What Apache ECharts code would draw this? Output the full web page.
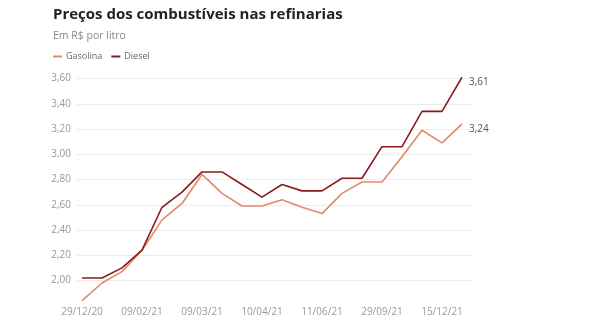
<!DOCTYPE html>
<html>
<head>
<meta charset="utf-8">
<script src="https://cdn.jsdelivr.net/npm/echarts@6/dist/echarts.min.js"></script>
<style>
  html, body { margin: 0; padding: 0; background: #fff; }
  #chart { width: 590px; height: 330px; }
</style>
</head>
<body>
<div id="chart"></div>
<script>
// Datas de referência (um rótulo a cada três levantamentos)
const tickLabels = ['29/12/20', '09/02/21', '09/03/21', '10/04/21', '11/06/21', '29/09/21', '15/12/21'];
const tickPositions = [0, 3, 6, 9, 12, 15, 18];

// Preço médio por litro nas refinarias (R$)
const gasolina = [1.84, 1.98, 2.07, 2.24, 2.48, 2.61, 2.84, 2.69, 2.59, 2.59,
                  2.64, 2.58, 2.53, 2.69, 2.78, 2.78, 2.98, 3.19, 3.09, 3.24];
const diesel   = [2.02, 2.02, 2.10, 2.24, 2.58, 2.70, 2.86, 2.86, 2.76, 2.66,
                  2.76, 2.71, 2.71, 2.81, 2.81, 3.06, 3.06, 3.34, 3.34, 3.61];

const fmt = v => v.toFixed(2).replace('.', ',');
const pairs = arr => arr.map((v, i) => [i, v]);

const chart = echarts.init(document.getElementById('chart'), null, { renderer: 'canvas' });

const FONT = '"Open Sans", sans-serif';

chart.setOption({
  animation: false,
  backgroundColor: '#fff',
  title: [
    {
      text: 'Preços dos combustíveis nas refinarias',
      left: 53, top: 7, padding: 0,
      textStyle: { fontFamily: FONT, fontWeight: 700, fontSize: 15, color: '#222' }
    },
    {
      text: 'Em R$ por litro',
      left: 53, top: 31, padding: 0,
      textStyle: { fontFamily: FONT, fontWeight: 400, fontSize: 10.5, color: '#888' }
    }
  ],
  legend: {
    left: 53, top: 52, padding: 0,
    icon: 'rect',
    itemWidth: 9, itemHeight: 2,
    itemGap: 9,
    textStyle: { fontFamily: FONT, fontSize: 9, color: '#666', padding: [0, 0, 0, -1] },
    data: ['Gasolina', 'Diesel']
  },
  grid: { left: 77, right: 118, top: 78.5, bottom: 24.25, containLabel: false },
  xAxis: {
    type: 'value',
    min: -0.25, max: 19.5,
    axisLine: { show: false },
    axisTick: { show: false },
    splitLine: { show: false },
    axisLabel: {
      customValues: tickPositions,
      formatter: v => tickLabels[tickPositions.indexOf(v)] || '',
      margin: 1,
      fontFamily: FONT, fontSize: 10, color: '#999'
    }
  },
  yAxis: {
    type: 'value',
    min: 1.8, max: 3.6, interval: 0.2,
    axisLine: { show: false },
    axisTick: { show: false },
    splitLine: {
      show: true,
      lineStyle: { color: '#ececec', width: 1 },
      showMinLine: false
    },
    axisLabel: {
      formatter: v => (Math.abs(v - 1.8) < 1e-6 ? '' : fmt(v)),
      margin: 6,
      fontFamily: FONT, fontSize: 10, color: '#999'
    }
  },
  series: [
    {
      name: 'Gasolina',
      type: 'line',
      data: pairs(gasolina),
      showSymbol: false,
      clip: false,
      color: '#e2896a',
      lineStyle: { width: 1.6, color: '#e2896a' },
      endLabel: {
        show: true,
        formatter: p => fmt(p.value[1]),
        distance: 7,
        offset: [0, 5],
        fontFamily: FONT, fontSize: 10, color: '#555'
      }
    },
    {
      name: 'Diesel',
      type: 'line',
      data: pairs(diesel),
      showSymbol: false,
      clip: false,
      color: '#8b1a1e',
      lineStyle: { width: 1.6, color: '#8b1a1e' },
      endLabel: {
        show: true,
        formatter: p => fmt(p.value[1]),
        distance: 7,
        offset: [0, 5],
        fontFamily: FONT, fontSize: 10, color: '#555'
      }
    }
  ]
});
</script>
</body>
</html>
